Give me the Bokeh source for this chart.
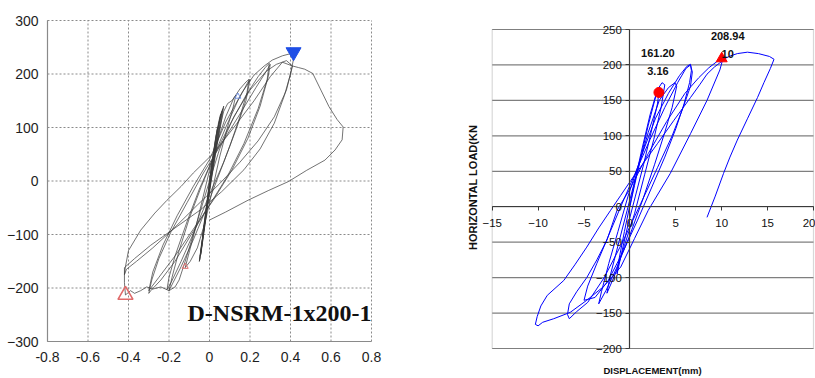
import math
from bokeh.plotting import figure
from bokeh.layouts import row
from bokeh.models import Range1d, FixedTicker, Label, BoxAnnotation
from bokeh.embed import file_html
from bokeh.resources import INLINE

# ---------------- left chart data (D-NSRM-1x200-1) ----------------
left_disp = [
    0.000, 0.010, 0.035, 0.060, 0.050, 0.025, 0.000, -0.025, -0.045, -0.035,
    -0.010, 0.015, 0.045, 0.070, 0.058, 0.030, 0.000, -0.030, -0.050, -0.038,
    -0.012, 0.000,
    0.015, 0.030, 0.040, 0.030, 0.010, -0.010, -0.025, -0.035, -0.028,
    -0.010, 0.005, 0.025, 0.045, 0.055, 0.045, 0.020, -0.005, -0.025, -0.040,
    -0.045, -0.035, -0.015, 0.005, 0.030, 0.050, 0.065, 0.055, 0.030, 0.005,
    -0.020, -0.040, -0.050, -0.040, -0.020, 0.000, 0.025, 0.050, 0.070, 0.090,
    0.110, 0.130, 0.115, 0.085, 0.050, 0.015, -0.020, -0.060, -0.095, -0.120,
    -0.105, -0.070, -0.035, 0.000, 0.040, 0.080, 0.120, 0.150, 0.180, 0.195,
    0.185, 0.150, 0.100, 0.040, -0.020, -0.080, -0.140, -0.180, -0.200, -0.185,
    -0.150, -0.100, -0.040, 0.020, 0.080, 0.140, 0.190, 0.200, 0.180, 0.130,
    0.070, 0.000, -0.070, -0.140, -0.190, -0.210, -0.200, -0.170, -0.110, -0.050,
    0.020, 0.100, 0.180, 0.240, 0.275, 0.295, 0.285, 0.240, 0.170, 0.090,
    0.000, -0.090, -0.170, -0.240, -0.290, -0.300, -0.285, -0.250, -0.190, -0.110,
    -0.030, 0.060, 0.150, 0.230, 0.280, 0.300, 0.290, 0.250, 0.190, 0.110,
    0.020, -0.080, -0.170, -0.250, -0.300, -0.280, -0.230, -0.160, -0.080, 0.000,
    0.080, 0.160, 0.220, 0.270, 0.310, 0.360, 0.400, 0.415, 0.400, 0.370,
    0.320, 0.250, 0.170, 0.060, -0.045, -0.160, -0.290, -0.370, -0.420, -0.420,
    -0.415, -0.390, -0.370, -0.340, -0.310, -0.280, -0.240, -0.200, -0.170, -0.150,
    -0.120, -0.080, -0.040, 0.000, 0.050, 0.120, 0.200, 0.280, 0.330, 0.380,
    0.410, 0.380, 0.320, 0.240, 0.150, 0.050, -0.060, -0.180, -0.280, -0.360,
    -0.410, -0.420, -0.415, -0.400, -0.340, -0.270, -0.210, -0.140, -0.080, 0.020,
    0.120, 0.220, 0.300, 0.360, 0.410, 0.440, 0.470, 0.510, 0.550, 0.590,
    0.630, 0.660, 0.655, 0.620, 0.570, 0.480, 0.390, 0.290, 0.190, 0.080,
    0.000,
]
left_load = [
    0, 30, 90, 130, 105, 45, -15, -85, -140, -110,
    -40, 30, 105, 140, 110, 50, -20, -95, -150, -120,
    -45, 0,
    40, 80, 100, 75, 25, -30, -75, -105, -85,
    -35, 10, 65, 110, 125, 100, 40, -20, -80, -125,
    -140, -115, -60, 0, 70, 115, 135, 110, 55, -5,
    -70, -120, -150, -130, -75, -15, 50, 100, 130, 145,
    150, 160, 135, 95, 45, -15, -75, -125, -150, -162,
    -140, -90, -35, 20, 75, 120, 155, 172, 185, 190,
    165, 120, 65, 5, -55, -110, -160, -190, -205, -180,
    -130, -70, -10, 45, 100, 150, 185, 190, 150, 95,
    35, -25, -90, -150, -190, -203, -180, -140, -75, -15,
    45, 105, 160, 195, 212, 220, 190, 135, 70, 10,
    -45, -100, -150, -185, -205, -210, -185, -145, -95, -40,
    15, 70, 125, 175, 205, 218, 195, 140, 80, 20,
    -35, -90, -140, -180, -205, -170, -120, -65, -10, 40,
    110, 165, 198, 215, 226, 234, 238, 228, 200, 160,
    108, 60, 21, -20, -54, -85, -120, -145, -162, -190,
    -213, -205, -210, -205, -198, -202, -198, -205, -198, -185,
    -150, -100, -50, 0, 60, 120, 170, 205, 218, 225,
    215, 170, 120, 75, 35, -5, -45, -90, -125, -150,
    -165, -175, -160, -130, -92, -60, -36, -10, 15, 52,
    100, 150, 195, 222, 215, 212, 209, 201, 170, 139,
    115, 101, 77, 58, 39, 20, -1, -18, -36, -58,
    -73,
]
left_peak_pos_disp = [0.415]
left_peak_pos_load = [241]
left_peak_neg_disp = [-0.415]
left_peak_neg_load = [-213]
left_small_neg_disp = [-0.12]
left_small_neg_load = [-160]
left_small_pos_disp = [0.14]
left_small_pos_load = [158]
left_x_ticks = [-0.8, -0.6, -0.4, -0.2, 0, 0.2, 0.4, 0.6, 0.8]
left_x_labels = ["-0.8", "-0.6", "-0.4", "-0.2", "0", "0.2", "0.4", "0.6", "0.8"]
left_y_ticks = [-300, -200, -100, 0, 100, 200, 300]
specimen_name = "D-NSRM-1x200-1"

# ---------------- right chart data ----------------
right_disp = [
    0.0, 0.5, 1.2, 2.0, 2.6, 2.8, 3.16, 3.0, 2.4, 1.5,
    0.6, -0.2, -0.9, -1.4, -1.2, -0.6, 0.2, 1.2, 2.2, 3.0,
    3.5, 3.8, 3.4, 2.6, 1.6, 0.5, -0.6, -1.6, -2.5, -2.2,
    -1.3, -0.3, 0.8, 2.0, 3.2, 4.2, 4.9, 5.1, 4.6, 3.8,
    2.7, 1.4, 0.0, -1.4, -2.6, -3.4, -3.1, -2.3, -1.3, -0.2,
    1.2, 2.8, 4.2, 5.4, 6.2, 6.6, 6.7, 6.5, 5.9, 5.0,
    3.8, 2.3, 0.8, -0.8, -2.4, -3.8, -5.0, -4.6, -3.6, -2.3,
    -1.0, 0.5, 2.2, 3.8, 5.2, 6.1, 6.6, 6.8, 6.6, 5.8,
    4.6, 3.0, 1.2, -0.8, -2.8, -4.6, -5.8, -6.6, -6.8, -6.6,
    -5.8, -4.7, -3.6, -2.5, -1.4, 0.0, 2.0, 4.0, 6.0, 7.5,
    8.6, 9.5, 10.0, 10.2, 9.8, 8.4, 6.6, 4.4, 2.0, 0.5,
    -1.0, -2.9, -4.7, -6.5, -8.3, -9.5, -10.0, -10.3, -10.1, -9.7,
    -9.0, -7.2, -6.0, -4.7, -3.4, -2.1, -1.0, 0.1, 1.5, 3.0,
    4.8, 6.6, 7.6, 8.4, 9.2, 9.8, 10.5, 11.0, 11.7, 12.8,
    14.0, 15.2, 15.7, 15.3, 14.6, 13.9, 12.8, 11.7, 10.9, 10.2,
    9.3, 8.4,
]
right_load = [
    0, 30, 70, 115, 145, 155, 161, 145, 110, 60,
    15, -25, -65, -95, -75, -35, 15, 75, 130, 165,
    175, 172, 140, 95, 45, -10, -55, -95, -122, -100,
    -55, -5, 50, 105, 150, 168, 175, 170, 140, 105,
    60, 10, -40, -85, -118, -137, -120, -80, -35, 15,
    70, 125, 160, 185, 198, 201, 192, 175, 145, 110,
    70, 25, -20, -65, -105, -128, -132, -112, -80, -40,
    0, 45, 95, 140, 175, 195, 200, 190, 170, 140,
    100, 55, 5, -50, -100, -135, -148, -158, -152, -137,
    -120, -100, -75, -47, -5, 25, 75, 120, 160, 182,
    196, 205, 209, 212, 193, 150, 103, 47, -5, -45,
    -85, -113, -132, -149, -158, -163, -168, -166, -155, -140,
    -125, -104, -82, -57, -30, -5, 16, 37, 62, 89,
    122, 154, 172, 187, 197, 203, 210, 213, 216, 218,
    216, 212, 208, 195, 175, 154, 124, 94, 70, 47,
    15, -15,
]
right_peak_disp = [3.16, 10]
right_peak_load = [161.20, 208.94]
right_box_x = [-15, 20]
right_x_ticks = [-15, -10, -5, 0, 5, 10, 15, 20]
right_y_ticks = [-200, -150, -100, -50, 0, 50, 100, 150, 200, 250]
right_x_title = "DISPLACEMENT(mm)"
right_y_title = "HORIZONTAL LOAD(KN"

# ---------------- layout constants (page pixels; page has no margin) ----------------
CANVAS_TOP, CANVAS_BOTTOM = 0, 378
L_LEFT, L_RIGHT = 0, 430          # left canvas
R_LEFT, R_RIGHT = 430, 815        # right canvas
LB_X0, LB_X1, LB_Y0, LB_Y1 = 47, 371, 20, 341          # left chart box
RB_X0, RB_X1, RB_Y0, RB_Y1 = 491.7, 813, 29, 348       # right chart box


def span_range(v0, v1, p0, p1, c0, c1, flip=False):
    """data range that maps [v0, v1] onto pixels [p0, p1] for canvas [c0, c1]"""
    per = (p1 - p0) / (v1 - v0)
    if not flip:
        return Range1d(v0 - (p0 - c0) / per, v1 + (c1 - p1) / per), per
    return Range1d(v0 - (c1 - p1) / per, v1 + (p0 - c0) / per), per


# ---------------- left figure ----------------
lx_range, lpx = span_range(left_x_ticks[0], left_x_ticks[-1], LB_X0, LB_X1, L_LEFT, L_RIGHT)
ly_range, lpy = span_range(left_y_ticks[0], left_y_ticks[-1], LB_Y0, LB_Y1,
                           CANVAS_TOP, CANVAS_BOTTOM, flip=True)
p1 = figure(width=L_RIGHT - L_LEFT, height=CANVAS_BOTTOM - CANVAS_TOP,
            x_range=lx_range, y_range=ly_range,
            output_backend="svg", toolbar_location=None,
            min_border=0, min_border_left=0, min_border_right=0,
            min_border_top=0, min_border_bottom=0)
p1.outline_line_color = None
p1.xgrid.visible = False
p1.ygrid.visible = False

nx, ny = len(left_x_ticks), len(left_y_ticks)
p1.segment(x0=left_x_ticks, x1=left_x_ticks,
           y0=[left_y_ticks[0]] * nx, y1=[left_y_ticks[-1]] * nx,
           line_color="#8a8a8a", line_dash="2 2", line_width=1)
p1.segment(x0=[left_x_ticks[0]] * ny, x1=[left_x_ticks[-1]] * ny,
           y0=left_y_ticks, y1=left_y_ticks,
           line_color="#8a8a8a", line_dash="2 2", line_width=1)

p1.xaxis.fixed_location = left_y_ticks[0]
p1.yaxis.fixed_location = left_x_ticks[0]
p1.xaxis.bounds = (left_x_ticks[0], left_x_ticks[-1])
p1.yaxis.bounds = (left_y_ticks[0], left_y_ticks[-1])
p1.xaxis.ticker = FixedTicker(ticks=left_x_ticks)
p1.yaxis.ticker = FixedTicker(ticks=left_y_ticks)
p1.xaxis.major_label_overrides = dict(zip(left_x_ticks, left_x_labels))
for ax in (p1.xaxis[0], p1.yaxis[0]):
    ax.major_tick_out = 0
    ax.major_tick_in = 0
    ax.minor_tick_out = 0
    ax.minor_tick_in = 0
    ax.axis_line_color = "#8a8a8a"
    ax.axis_line_width = 1.2
    ax.major_label_text_font = "Liberation Sans"
    ax.major_label_text_font_size = "14px"
    ax.major_label_text_color = "#1e1e1e"
p1.xaxis.major_label_standoff = 10
p1.yaxis.major_label_standoff = 9

p1.line(left_disp, left_load, line_color="#3c3c3c", line_width=0.9, line_alpha=0.8)
p1.scatter(left_small_neg_disp, left_small_neg_load, marker="triangle", size=6,
           fill_color=None, line_color="#e07070", line_width=1)
p1.scatter(left_small_pos_disp, left_small_pos_load, marker="triangle", size=6,
           fill_color=None, line_color="#7090e0", line_width=1)
p1.scatter(left_peak_pos_disp, left_peak_pos_load, marker="inverted_triangle", size=15,
           fill_color="#1f4fe6", line_color="#1f4fe6")
p1.scatter(left_peak_neg_disp, left_peak_neg_load, marker="triangle", size=15,
           fill_color=None, line_color="#e06a6a", line_width=1.6)
p1.add_layout(Label(x=left_x_ticks[-1], y=left_y_ticks[0] + (LB_Y1 - 312) / lpy,
                    text=specimen_name,
                    text_align="right", text_baseline="middle",
                    text_font="Liberation Serif", text_font_style="bold",
                    text_font_size="24px", text_color="#111111"))

# ---------------- right figure ----------------
rx_range, rpx = span_range(right_box_x[0], right_box_x[-1], RB_X0, RB_X1, R_LEFT, R_RIGHT)
ry_range, rpy = span_range(right_y_ticks[0], right_y_ticks[-1], RB_Y0, RB_Y1,
                           CANVAS_TOP, CANVAS_BOTTOM, flip=True)
p2 = figure(width=R_RIGHT - R_LEFT, height=CANVAS_BOTTOM - CANVAS_TOP,
            x_range=rx_range, y_range=ry_range,
            output_backend="svg", toolbar_location=None,
            min_border=0, min_border_left=0, min_border_right=0,
            min_border_top=0, min_border_bottom=0)
p2.outline_line_color = None
p2.xgrid.visible = False
p2.ygrid.visible = False

nyr = len(right_y_ticks)
p2.segment(x0=[right_box_x[0]] * nyr, x1=[right_box_x[-1]] * nyr,
           y0=right_y_ticks, y1=right_y_ticks,
           line_color="#7f7f7f", line_width=1.2)
p2.add_layout(BoxAnnotation(left=right_box_x[0], right=right_box_x[-1],
                            bottom=right_y_ticks[0], top=right_y_ticks[-1],
                            fill_color=None, fill_alpha=0,
                            line_color="#7f7f7f", line_width=1.2, level="underlay"))

p2.xaxis.fixed_location = 0
p2.yaxis.fixed_location = 0
p2.xaxis.bounds = (right_box_x[0], right_box_x[-1])
p2.yaxis.bounds = (right_y_ticks[0], right_y_ticks[-1])
p2.xaxis.ticker = FixedTicker(ticks=right_x_ticks)
p2.yaxis.ticker = FixedTicker(ticks=right_y_ticks)
for ax in (p2.xaxis[0], p2.yaxis[0]):
    ax.major_tick_out = 4
    ax.major_tick_in = 0
    ax.minor_tick_out = 0
    ax.minor_tick_in = 0
    ax.axis_line_color = "#3a3a3a"
    ax.axis_line_width = 1.2
    ax.major_tick_line_color = "#3a3a3a"
    ax.major_label_text_font = "Liberation Sans"
    ax.major_label_text_font_size = "11.5px"
    ax.major_label_text_color = "#111111"
p2.xaxis.major_label_standoff = 8
p2.yaxis.major_label_standoff = 4

p2.line(right_disp, right_load, line_color="#0000ff", line_width=1)
p2.scatter(right_peak_disp[:1], right_peak_load[:1], marker="circle", size=10,
           fill_color="#ff0000", line_color="#ff0000")
p2.scatter(right_peak_disp[1:], right_peak_load[1:], marker="triangle", size=11,
           fill_color="#ff0000", line_color="#ff0000")

label_offsets = [((-1, 39), (-1, 21)), ((6, 23), (6, 5))]
for xv, yv, (o1, o2) in zip(right_peak_disp, right_peak_load, label_offsets):
    top_text = f"{yv:.2f}"
    bot_text = f"{xv:g}"
    for txt, (dx, dy) in ((top_text, o1), (bot_text, o2)):
        p2.add_layout(Label(x=xv + dx / rpx, y=yv + dy / rpy, text=txt,
                            text_align="center", text_baseline="middle",
                            text_font="Liberation Sans", text_font_style="bold",
                            text_font_size="11px", text_color="#111111"))

p2.add_layout(Label(x=right_box_x[0] + (652 - RB_X0) / rpx,
                    y=right_y_ticks[0] - (370 - RB_Y1) / rpy,
                    text=right_x_title, text_align="center", text_baseline="middle",
                    text_font="Liberation Sans", text_font_style="bold",
                    text_font_size="9.5px", text_color="#111111"))
p2.add_layout(Label(x=right_box_x[0] - (RB_X0 - 472) / rpx,
                    y=right_y_ticks[0] + (RB_Y1 - 187) / rpy,
                    text=right_y_title, angle=math.pi / 2,
                    text_align="center", text_baseline="middle",
                    text_font="Liberation Sans", text_font_style="bold",
                    text_font_size="11px", text_color="#111111"))

layout = row(p1, p2)
open("out.html", "w").write(file_html(layout, INLINE))
